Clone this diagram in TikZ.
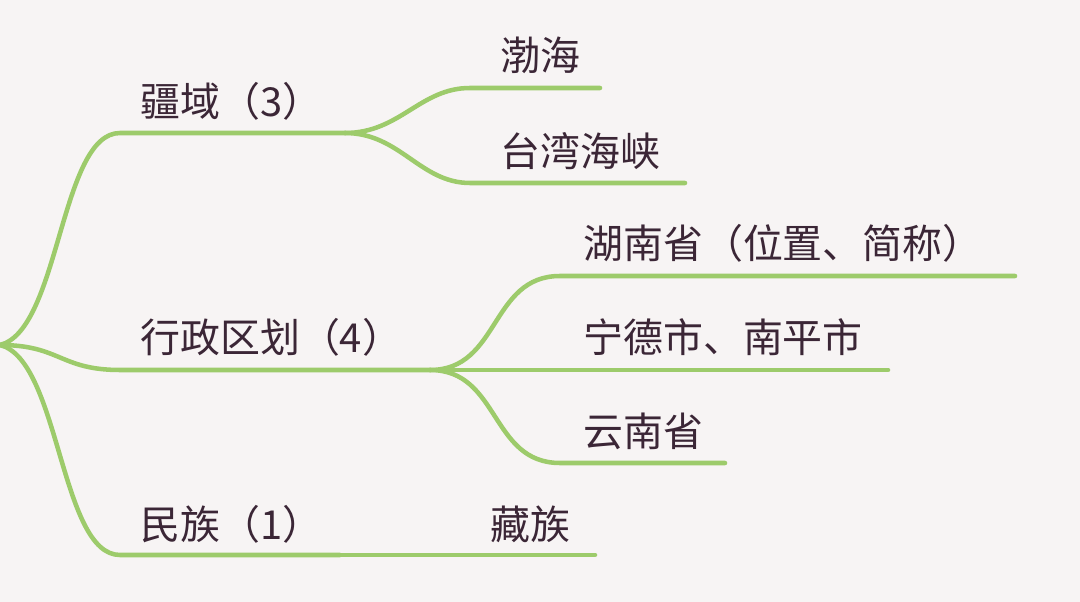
\documentclass[tikz,border=0pt]{standalone}
\usepackage{fontspec}
\setmainfont{Noto Sans CJK SC}
\usetikzlibrary{positioning}
\definecolor{bg}{HTML}{F7F4F4}
\definecolor{branch}{HTML}{9DCB6B}
\definecolor{ink}{HTML}{3B2636}
\tikzset{
  edge/.style={draw=branch,line width=3.4pt,line cap=round},
  topic/.style={anchor=base west,inner sep=0pt,text=ink,font=\fontsize{30}{34}\selectfont}
}
\begin{document}
\begin{tikzpicture}[x=0.0264cm,y=-0.0264cm]
        \fill[bg] (0,0) rectangle (1080,602);
        \useasboundingbox (0,0) rectangle (1080,602);
        \coordinate (root) at (0,345);
        % first level
        \coordinate (a1) at (120,133); \coordinate (a2) at (345,133);
        \coordinate (b1) at (120,370); \coordinate (b2) at (430,370);
        \coordinate (c1) at (120,555); \coordinate (c2) at (340,555);
        \draw[edge] (root) .. controls (60,330) and (60,133) .. (a1) -- (a2);
        \draw[edge] (root) .. controls (60,345) and (60,370) .. (b1) -- (b2);
        \draw[edge] (root) .. controls (60,360) and (60,555) .. (c1) -- (c2);
        \node[topic] (jiang) at (140,117) {疆域（3）};
        \node[topic] (xing) at (140,353) {行政区划（4）};
        \node[topic] (min) at (140,539) {民族（1）};
        % second level
        \coordinate (a3) at (470,88); \coordinate (a4) at (600,88);
        \coordinate (a5) at (470,183); \coordinate (a6) at (685,183);
        \draw[edge] (a2) .. controls (400,133) and (420,88) .. (a3) -- (a4);
        \draw[edge] (a2) .. controls (400,133) and (420,183) .. (a5) -- (a6);
        \node[topic] (bo) at (500,71) {渤海};
        \node[topic] (tai) at (500,167) {台湾海峡};
        \coordinate (b3) at (560,276); \coordinate (b4) at (1015,276);
        \coordinate (b5) at (888,370);
        \coordinate (b6) at (560,463); \coordinate (b7) at (725,463);
        \draw[edge] (b2) .. controls (500,370) and (490,276) .. (b3) -- (b4);
        \draw[edge] (b2) -- (b5);
        \draw[edge] (b2) .. controls (500,370) and (490,463) .. (b6) -- (b7);
        \node[topic] (hu) at (583,259) {湖南省（位置、简称）};
        \node[topic] (ning) at (583,353) {宁德市、南平市};
        \node[topic] (yun) at (583,446) {云南省};
        \coordinate (c3) at (595,555);
        \draw[edge] (c2) -- (c3);
        \node[topic] (zang) at (490,539) {藏族};
\end{tikzpicture}
\end{document}
